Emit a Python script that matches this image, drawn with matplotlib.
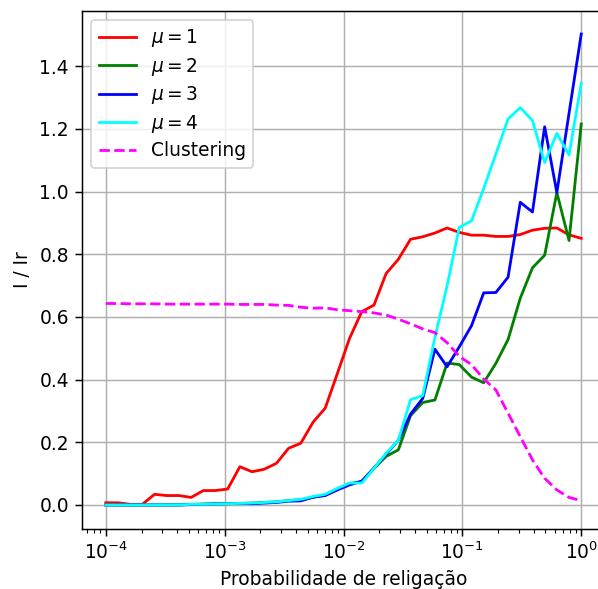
import numpy as np
import matplotlib
matplotlib.use("Agg")
import matplotlib.pyplot as plt

# Rewiring probability (40 log-spaced values from 1e-4 to 1)
p = [1.000e-4, 1.266e-4, 1.604e-4, 2.031e-4, 2.572e-4, 3.257e-4, 4.125e-4, 5.224e-4,
     6.615e-4, 8.377e-4, 1.061e-3, 1.343e-3, 1.701e-3, 2.154e-3, 2.728e-3, 3.455e-3,
     4.375e-3, 5.541e-3, 7.017e-3, 8.886e-3, 1.125e-2, 1.425e-2, 1.805e-2, 2.286e-2,
     2.894e-2, 3.665e-2, 4.642e-2, 5.878e-2, 7.444e-2, 9.427e-2, 1.194e-1, 1.512e-1,
     1.914e-1, 2.424e-1, 3.070e-1, 3.888e-1, 4.924e-1, 6.236e-1, 7.896e-1, 1.0]

# I / Ir for each mu
mu1 = [0.007, 0.007, 0.002, 0.002, 0.034, 0.030, 0.030, 0.024, 0.046, 0.046,
       0.051, 0.122, 0.106, 0.114, 0.133, 0.181, 0.197, 0.264, 0.309, 0.420,
       0.532, 0.617, 0.638, 0.739, 0.784, 0.848, 0.856, 0.868, 0.884, 0.870,
       0.861, 0.861, 0.857, 0.857, 0.863, 0.877, 0.883, 0.884, 0.862, 0.851]
mu2 = [0.0, 0.0, 0.0, 0.0, 0.0, 0.0, 0.0, 0.002, 0.003, 0.004,
       0.004, 0.005, 0.006, 0.008, 0.010, 0.014, 0.017, 0.024, 0.032, 0.050,
       0.068, 0.075, 0.117, 0.155, 0.176, 0.285, 0.327, 0.335, 0.453, 0.448,
       0.408, 0.390, 0.452, 0.528, 0.660, 0.757, 0.797, 0.997, 0.844, 1.216]
mu3 = [0.0, 0.0, 0.0, 0.0, 0.0, 0.0, 0.0, 0.001, 0.002, 0.003,
       0.004, 0.005, 0.004, 0.006, 0.008, 0.012, 0.013, 0.025, 0.030, 0.048,
       0.064, 0.076, 0.118, 0.162, 0.207, 0.290, 0.340, 0.497, 0.441, 0.505,
       0.572, 0.677, 0.678, 0.727, 0.966, 0.935, 1.207, 0.997, 1.250, 1.503]
mu4 = [0.0, 0.0, 0.0, 0.0, 0.0, 0.0, 0.0, 0.002, 0.002, 0.003,
       0.004, 0.005, 0.006, 0.008, 0.010, 0.014, 0.018, 0.027, 0.034, 0.053,
       0.070, 0.070, 0.117, 0.165, 0.207, 0.336, 0.349, 0.535, 0.700, 0.886,
       0.907, 1.010, 1.120, 1.232, 1.268, 1.227, 1.093, 1.186, 1.117, 1.346]

# Clustering coefficient (normalised)
clustering = [0.643, 0.643, 0.642, 0.642, 0.642, 0.641, 0.641, 0.641, 0.641, 0.641,
              0.641, 0.640, 0.640, 0.640, 0.638, 0.637, 0.631, 0.628, 0.629, 0.623,
              0.620, 0.617, 0.613, 0.606, 0.593, 0.578, 0.562, 0.550, 0.518, 0.474,
              0.448, 0.402, 0.367, 0.293, 0.218, 0.144, 0.085, 0.048, 0.024, 0.014]

dpi = 134
fig = plt.figure(figsize=(598 / dpi, 589 / dpi), dpi=dpi)
ax = fig.add_axes([82 / 598, 60.5 / 589, 523 / 598, 518 / 589])

ax.semilogx(p, mu1, color="red", label=r"$\mu = 1$")
ax.semilogx(p, mu2, color="green", label=r"$\mu = 2$")
ax.semilogx(p, mu3, color="blue", label=r"$\mu = 3$")
ax.semilogx(p, mu4, color="cyan", label=r"$\mu = 4$")
ax.semilogx(p, clustering, "--", color="magenta", label="Clustering")

ax.set_xlabel("Probabilidade de religação")
ax.set_ylabel("I / Ir")
ax.grid()
ax.legend(loc="upper left", labelspacing=0.35)

fig.savefig("out.png", dpi=dpi)
